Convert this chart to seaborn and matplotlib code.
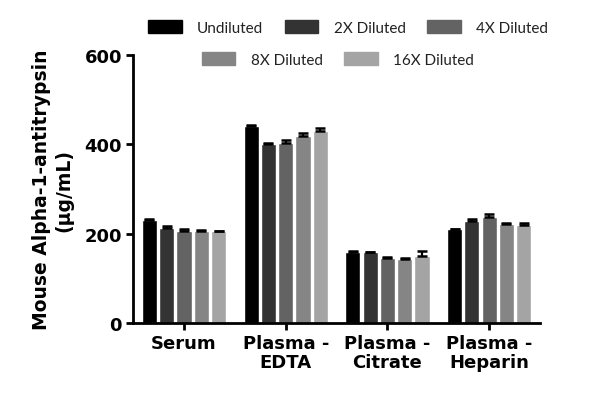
import matplotlib

matplotlib.use("Agg")

import matplotlib.pyplot as plt
import numpy as np
import pandas as pd
import seaborn as sns
from matplotlib.patches import Patch

SAMPLES = ["Serum", "Plasma -\nEDTA", "Plasma -\nCitrate", "Plasma -\nHeparin"]
DILUTIONS = ["Undiluted", "2X Diluted", "4X Diluted", "8X Diluted", "16X Diluted"]
COLORS = ["#000000", "#333333", "#636363", "#858585", "#a4a4a4"]

# mean concentration (ug/mL), one list per dilution, in sample order
UNDILUTED = [231, 442, 160, 210]
DIL_2X = [212, 401, 158, 228]
DIL_4X = [205, 403, 145, 238]
DIL_8X = [206, 418, 143, 221]
DIL_16X = [205, 429, 151, 219]

# upper error (SEM)
ERR_UNDILUTED = [2, 2, 1, 1]
ERR_2X = [5, 2, 2, 4]
ERR_4X = [5, 7, 2, 5]
ERR_8X = [2, 7, 2, 2]
ERR_16X = [2, 7, 11, 4]

means = [UNDILUTED, DIL_2X, DIL_4X, DIL_8X, DIL_16X]
errs = [ERR_UNDILUTED, ERR_2X, ERR_4X, ERR_8X, ERR_16X]

rows = []
for dil, vals, ers in zip(DILUTIONS, means, errs):
    for s, v, e in zip(SAMPLES, vals, ers):
        rows.append({"sample": s, "dilution": dil, "value": v, "err": e})
df = pd.DataFrame(rows)

sns.set_theme(style="white")
plt.rcParams["font.family"] = ["DejaVu Sans"]
plt.rcParams["text.color"] = "black"
plt.rcParams["axes.labelcolor"] = "black"
plt.rcParams["xtick.color"] = "black"
plt.rcParams["ytick.color"] = "black"

fig = plt.figure(figsize=(6.0, 4.1), dpi=100)
ax = fig.add_axes([0.222, 0.21, 0.678, 0.653])

sns.barplot(
    data=df, x="sample", y="value", hue="dilution",
    order=SAMPLES, hue_order=DILUTIONS, palette=COLORS,
    width=0.85, gap=0.12, errorbar=None, legend=False, ax=ax,
)

# error bars (upper only) from the drawn bars
for i, dil in enumerate(DILUTIONS):
    sub = df[df["dilution"] == dil].set_index("sample").loc[SAMPLES]
    bars = ax.containers[i]
    xs = [b.get_x() + b.get_width() / 2 for b in bars]
    ax.errorbar(
        xs, sub["value"], yerr=[np.zeros(len(xs)), sub["err"]],
        fmt="none", ecolor="black", elinewidth=1.6, capsize=3.5, capthick=1.8, zorder=4,
    )

ax.set_xlim(-0.5, 3.5)
ax.set_ylim(0, 600)
ax.set_yticks([0, 200, 400, 600])
ax.set_xlabel("")
ax.set_ylabel("Mouse Alpha-1-antitrypsin\n(µg/mL)", fontsize=13.5, fontweight="bold", labelpad=8)
for side in ["top", "right"]:
    ax.spines[side].set_visible(False)
for side in ["left", "bottom"]:
    ax.spines[side].set_linewidth(2)
    ax.spines[side].set_color("black")
ax.tick_params(axis="both", which="both", direction="out", length=5, width=2, color="black",
               labelcolor="black", labelsize=13, left=True, bottom=True, pad=3)
for lab in ax.get_xticklabels() + ax.get_yticklabels():
    lab.set_fontweight("bold")
    lab.set_linespacing(1.05)

handles = [Patch(facecolor=c, edgecolor=c, label=d) for c, d in zip(COLORS, DILUTIONS)]
legkw = dict(frameon=False, handlelength=2.2, handleheight=0.9, columnspacing=1.4,
             handletextpad=1.0, labelcolor="#222222", prop={"family": "Lato", "size": 11})
fig.legend(handles=handles[:3], loc="center", bbox_to_anchor=(0.58, 0.93), ncol=3, **legkw)
fig.legend(handles=handles[3:], loc="center", bbox_to_anchor=(0.563, 0.853), ncol=2, **legkw)

fig.savefig("out.png", dpi=100, facecolor="white")
